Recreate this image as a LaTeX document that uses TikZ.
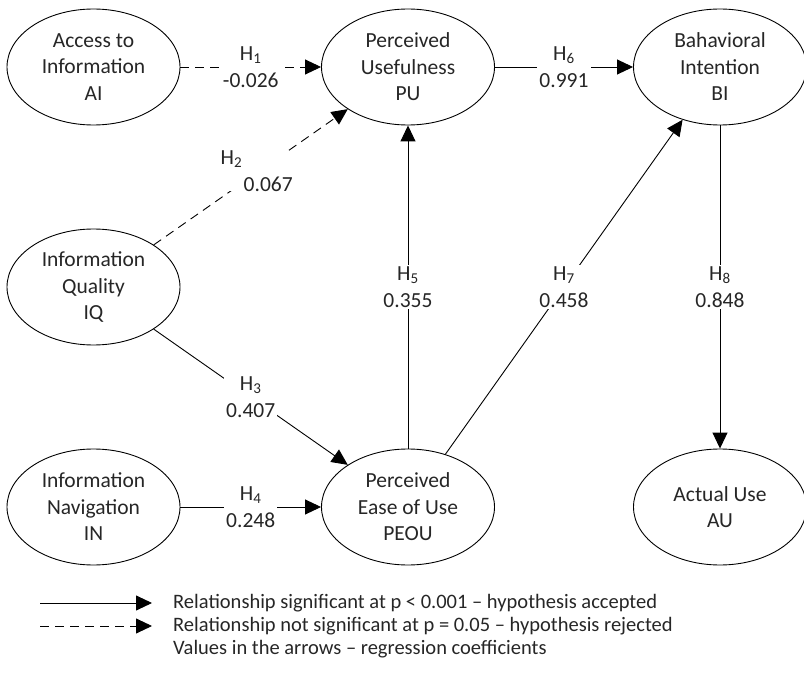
\documentclass[tikz,border=0pt]{standalone}
\usepackage{fontspec}
\setmainfont{Carlito}
\usetikzlibrary{arrows.meta,shapes.geometric}
\begin{document}
\begin{tikzpicture}[x=1pt,y=-1pt,
  construct/.style={draw, ellipse, line width=0.9pt, minimum width=173pt,
    minimum height=116pt, inner sep=0pt, align=center, text=black!85,
    font=\fontsize{21.5}{26.5}\selectfont},
  relation/.style={line width=0.9pt, -{Triangle[length=16pt,width=15pt]}},
  rejected/.style={relation, dash pattern=on 9pt off 6pt},
  coef/.style={fill=white, inner sep=2pt, align=center, text=black!85,
    font=\fontsize{21.5}{26.5}\selectfont},
  legendtext/.style={anchor=west, inner sep=0pt, text=black!85,
    font=\fontsize{20.5}{24}\selectfont}
]
\useasboundingbox (0,0) rectangle (804,690);

% constructs of the model
\node[construct] (AI)   at (93.5,67)  {Access to\\Information\\AI};
\node[construct] (PU)   at (408,67)   {Perceived\\Usefulness\\PU};
\node[construct] (BI)   at (720,67)   {Bahavioral\\Intention\\BI};
\node[construct] (IQ)   at (93.5,287) {Information\\Quality\\IQ};
\node[construct] (IN)   at (93.5,507) {Information\\Navigation\\IN};
\node[construct] (PEOU) at (408,507)  {Perceived\\Ease of Use\\PEOU};
\node[construct] (AU)   at (720,507)  {Actual Use\\AU};

% hypothesised relationships with regression coefficients
\draw[rejected] (AI) -- node[coef] {H\textsubscript{1}\\-0.026} (PU);
\draw[rejected] (IQ) -- node[coef, inner sep=0pt, align=left, shift={(6,-6)}]
  {H\textsubscript{2}\\\hspace*{23pt}0.067} (PU);
\draw[relation] (IQ) -- node[coef] {H\textsubscript{3}\\0.407} (PEOU);
\draw[relation] (IN) -- node[coef] {H\textsubscript{4}\\0.248} (PEOU);
\draw[relation] (PEOU) -- node[coef] {H\textsubscript{5}\\0.355} (PU);
\draw[relation] (PU) -- node[coef] {H\textsubscript{6}\\0.991} (BI);
\draw[relation] (PEOU) -- node[coef] {H\textsubscript{7}\\0.458} (BI);
\draw[relation] (BI) -- node[coef] {H\textsubscript{8}\\0.848} (AU);

% legend
\coordinate (s0) at (40,603);  \coordinate (s1) at (152,603);
\coordinate (d0) at (40,626);  \coordinate (d1) at (152,626);
\draw[relation] (s0) -- (s1);
\draw[rejected] (d0) -- (d1);
\node[legendtext] (l1) at (173,603) {Relationship significant at p < 0.001 – hypothesis accepted};
\node[legendtext] (l2) at (173,626) {Relationship not significant at p = 0.05 – hypothesis rejected};
\node[legendtext] (l3) at (173,649) {Values in the arrows – regression coefficients};
\end{tikzpicture}
\end{document}
